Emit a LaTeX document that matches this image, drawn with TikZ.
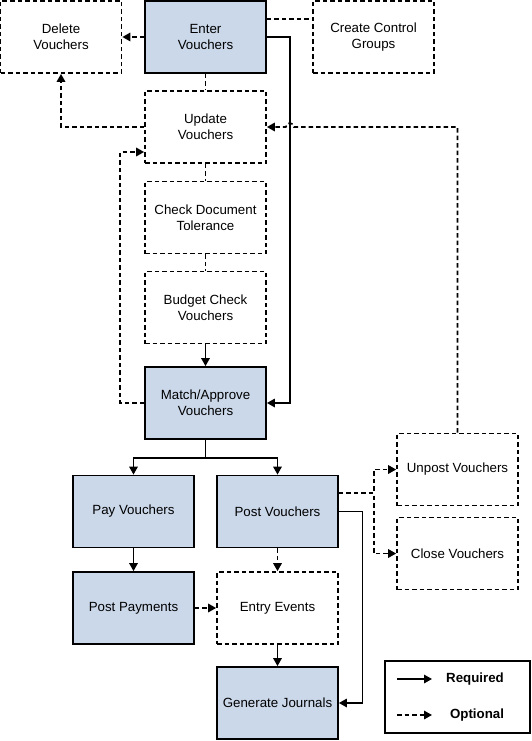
\documentclass[tikz,border=0pt]{standalone}
\usepackage{fontspec}
\setmainfont{Liberation Sans}
\usetikzlibrary{arrows.meta, positioning}

\definecolor{flowBlue}{RGB}{203,216,234}

\begin{document}
\begin{tikzpicture}[x=1pt, y=1pt, font=\fontsize{13.3}{16}\selectfont,
	reqBox/.style={draw, line width=1.8pt, fill=flowBlue, minimum width=121pt, minimum height=72pt, inner sep=0pt, align=center},
	optBox/.style={draw, line width=1.7pt, dash pattern=on 4.5pt off 3pt, minimum width=121pt, minimum height=72pt, inner sep=0pt, align=center},
	reqLine/.style={line width=1.6pt, -{Triangle[length=8pt,width=8.5pt]}},
	optLine/.style={line width=1.6pt, dash pattern=on 4.5pt off 3pt, -{Triangle[length=8pt,width=8.5pt]}}]
	\useasboundingbox (0,0) rectangle (531,-741);

	\node[reqBox] (enterVouchers) at (205.5,-37) {Enter\\Vouchers};
	\node[optBox] (deleteVouchers) at (61,-37) {Delete\\Vouchers};
	\node[optBox] (createGroups) at (373.5,-37) {Create Control\\Groups};
	\node[optBox] (updateVouchers) at (205.5,-127) {Update\\Vouchers};
	\node[optBox] (checkTolerance) at (205.5,-217.5) {Check Document\\Tolerance};
	\node[optBox] (budgetCheck) at (205.5,-307.5) {Budget Check\\Vouchers};
	\node[reqBox] (matchApprove) at (205.5,-403) {Match/Approve\\Vouchers};
	\node[reqBox] (payVouchers) at (133.5,-511.5) {Pay Vouchers};
	\node[reqBox] (postVouchers) at (277.5,-511.5) {Post Vouchers};
	\node[optBox] (unpostVouchers) at (457.5,-469.5) {Unpost Vouchers};
	\node[optBox] (closeVouchers) at (457.5,-553.5) {Close Vouchers};
	\node[reqBox] (postPayments) at (133.5,-608) {Post Payments};
	\node[optBox] (entryEvents) at (277.5,-608) {Entry Events};
	\node[reqBox] (generateJournals) at (277.5,-703) {Generate Journals};

	% legend
	\node[draw, line width=1.7pt, minimum width=145pt, minimum height=72pt] (legendBox) at (457.5,-697) {};
	\node[font=\fontsize{13.3}{16}\selectfont\bfseries] (requiredLabel) at (475,-679) {Required};
	\node[font=\fontsize{13.3}{16}\selectfont\bfseries] (optionalLabel) at (477,-715) {Optional};
	\coordinate (reqStart) at (397,-679);
	\coordinate (reqEnd) at (432,-679);
	\coordinate (optStart) at (397,-715);
	\coordinate (optEnd) at (432,-715);
	\draw[reqLine] (reqStart) -- (reqEnd);
	\draw[optLine] (optStart) -- (optEnd);

	\draw[optLine] (enterVouchers.west) -- (deleteVouchers.east);
	\draw[optLine, -] ([yshift=18]enterVouchers.east) -- ([yshift=18]createGroups.west);
	\draw[reqLine] (enterVouchers.east) -- ++(23,0) |- (matchApprove.east);
	\draw[optLine, -] (enterVouchers.south) -- (updateVouchers.north);
	\draw[optLine] (updateVouchers.west) -| (deleteVouchers.south);
	\draw[optLine, -] (updateVouchers.south) -- (checkTolerance.north);
	\draw[optLine, -] (checkTolerance.south) -- (budgetCheck.north);
	\draw[reqLine] (budgetCheck.south) -- (matchApprove.north);
	\draw[optLine] (matchApprove.west) -- ++(-24,0) |- ([yshift=-25]updateVouchers.west);
	\draw[reqLine] (matchApprove.south) -- ++(0,-18) -| (payVouchers.north);
	\draw[reqLine] (matchApprove.south) -- ++(0,-18) -| (postVouchers.north);
	\draw[reqLine] (payVouchers.south) -- (postPayments.north);
	\draw[optLine] (postVouchers.south) -- (entryEvents.north);
	\draw[optLine] (postPayments.east) -- (entryEvents.west);
	\draw[reqLine] (entryEvents.south) -- (generateJournals.north);
	\draw[reqLine] (postVouchers.east) -- ++(23.5,0) |- (generateJournals.east);
	\draw[optLine] ([yshift=18.5]postVouchers.east) -- ++(35,0) |- (unpostVouchers.west);
	\draw[optLine] ([yshift=18.5]postVouchers.east) -- ++(35,0) |- (closeVouchers.west);
	\draw[optLine] (unpostVouchers.north) |- ([xshift=27]updateVouchers.east)
		arc[start angle=0, end angle=180, radius=4] -- (updateVouchers.east);
\end{tikzpicture}
\end{document}
